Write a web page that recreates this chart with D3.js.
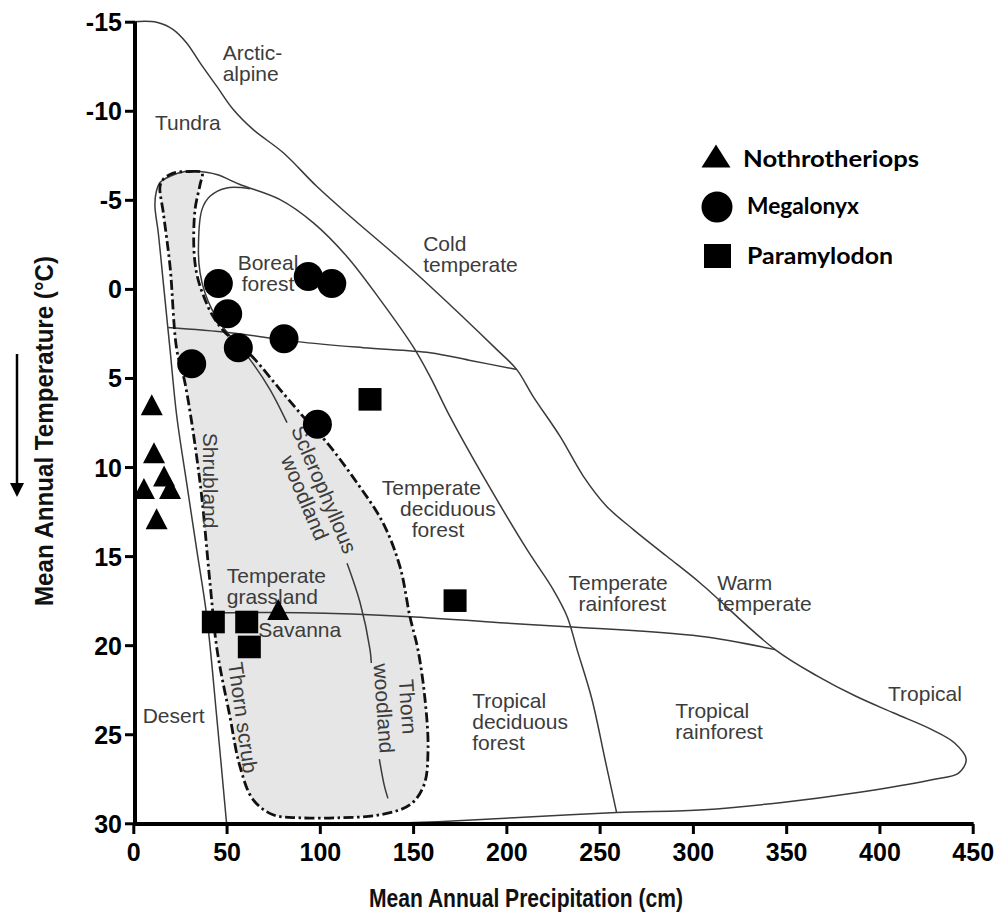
<!DOCTYPE html>
<html><head><meta charset="utf-8">
<script src="https://cdn.jsdelivr.net/npm/d3@7"></script>
<style>body{margin:0;background:#fff}</style>
</head><body>
<svg id="chart" width="995" height="915"></svg>
<script>
// ---------- data ----------
const precipTicks = [0,50,100,150,200,250,300,350,400,450];
const tempTicks = [-15,-10,-5,0,5,10,15,20,25,30];

// fossil sites [precipitation cm, temperature °C]
const nothrotheriops = [[9.9,6.5],[11.1,9.2],[16.5,10.5],[5.7,11.2],[19.7,11.2],[12.5,12.9],[77.7,18.0]];
const megalonyx = [[45.6,-0.3],[50.6,1.4],[56.3,3.3],[31.3,4.2],[80.8,2.8],[93.8,-0.7],[106.4,-0.3],[98.7,7.6]];
const paramylodon = [[126.9,6.2],[172.5,17.5],[42.9,18.7],[60.8,18.7],[62.2,20.1]];

// biome boundaries [precipitation, temperature]
const outerEnvelope = [[0,-15],[12.5,-14.97],[21.4,-14.56],[28.6,-13.81],[35.8,-12.69],[44.7,-11.38],[53.6,-10.07],[64.3,-8.94],[80.4,-7.64],[98.3,-5.76],[116.2,-4.08],[141.2,-1.83],[159.1,-0.15],[194.9,3.41],[205.6,4.53],[214.3,6.03],[228.8,8.28],[241.3,10.52],[253.8,12.21],[268.1,13.51],[286,15.01],[303.9,16.51],[344.1,20.25],[367,21.75],[387.4,22.87],[407.7,23.81],[428.1,24.74],[440.3,25.49],[446.5,26.4],[442.4,27.18],[428.1,27.55],[387.5,28.28],[346.7,28.84],[306,29.24],[259.1,29.4],[204.1,29.69],[163.4,29.91],[140,30]];
const forestLine = [[50,30],[44.7,24],[39.4,18.38],[34,14.64],[28.6,10.89],[23.3,7.15],[19.7,3.41],[16.1,-0.34],[13.4,-3.14],[11.6,-4.64],[12.2,-5.4],[14.3,-5.97],[19.7,-6.32],[27.7,-6.59],[34,-6.6],[44.7,-6.42],[57.2,-5.86],[78.7,-5.01],[96.4,-3.72],[114.6,-1.81],[132.3,0.6],[150,3.24],[159.1,4.92],[169.8,7.17],[189.6,10.88],[211.1,14.64],[225.1,16.88],[232.6,18.4],[237.9,20.25],[245.9,23.05],[252.9,26.42],[259.1,29.4]];
const borealLoop = [[62.6,-5.62],[50.1,-5.67],[41.1,-5.2],[36.8,-4.45],[34.9,-2.21],[35.8,-0.9],[38.4,0.22],[42.2,1.16],[49.2,2.29],[56.1,3.13],[62.6,3.97],[73.3,5.65],[82.4,7.51]];
const sclerophyllLine = [[114.6,15.4],[121.6,17.62],[126.9,20.25],[127.6,21.0]];
const thornLine = [[131.9,26.4],[134.6,27.9],[136.5,28.6]];
const shadedZone = [[22.4,-6.53],[30.4,-6.59],[36.8,-6.53],[35.8,-5.86],[33.1,-4.45],[32.5,-2.21],[34.1,-0.8],[37.4,0.32],[42.2,1.44],[49.2,2.45],[57.2,3.13],[65.3,3.97],[78.7,5.65],[91.1,7.17],[103.8,8.63],[119.9,10.88],[133.9,13.14],[143,15.61],[148.3,18.4],[152.6,20.25],[156.4,23.05],[158,25.86],[155.9,27.83],[148.5,28.95],[132.4,29.52],[110,29.69],[89.4,29.69],[74.9,29.52],[64.2,28.67],[57.2,26.82],[51.8,24.01],[44.9,20.25],[41.1,16.49],[35.8,10.88],[27.7,5.27],[23.3,3.41],[19.7,-1.27],[16.1,-4.27],[14.3,-5.74],[15.9,-6.14],[19.7,-6.42]];
const coldLine = [[18.7,2.17],[51.8,2.46],[87.7,2.96],[123.2,3.3],[159.1,3.58],[180,4.0],[205.6,4.53]];
const warmLine = [[37.5,18.2],[89.4,18.18],[148.3,18.4],[196.6,18.74],[232.5,18.96],[303.9,19.5],[344.1,20.25]];

// biome labels: lines of text, anchor point [precip, temp]
const biomeLabels = [
  {lines:["Arctic-","alpine"], at:[47.9,-12.87], anchor:"start"},
  {lines:["Tundra"], at:[11.6,-8.94], anchor:"start"},
  {lines:["Boreal","forest"], at:[72.2,-1.04], anchor:"middle"},
  {lines:["Cold","temperate"], at:[155.4,-2.1], anchor:"start"},
  {lines:["Temperate","grassland"], at:[50.1,16.5], anchor:"start"},
  {lines:["Savanna"], at:[67,19.54], anchor:"start"},
  {lines:["Desert"], at:[5.0,24.37], anchor:"start"},
  {lines:["Temperate","deciduous","forest"], at:[133.2,11.55], anchor:"start", dx:[0,9.8,16.1]},
  {lines:["Temperate","rainforest"], at:[233.3,16.92], anchor:"start", dx:[0,5.4]},
  {lines:["Warm","temperate"], at:[313,16.9], anchor:"start"},
  {lines:["Tropical"], at:[404.6,23.16], anchor:"start"},
  {lines:["Tropical","deciduous","forest"], at:[181.7,23.53], anchor:"start"},
  {lines:["Tropical","rainforest"], at:[290.6,24.09], anchor:"start"}
];
const rotatedLabels = [
  {lines:["Shrubland"], at:[41.1,10.76], rot:90, gap:21},
  {lines:["Sclerophyllous","woodland"], at:[97.0,11.5], rot:67, gap:21},
  {lines:["Thorn scrub"], at:[58.6,24.07], rot:82, gap:21},
  {lines:["Thorn","woodland"], at:[140.6,23.5], rot:86, gap:24}
];
const legendItems = ["Nothrotheriops","Megalonyx","Paramylodon"];

// ---------- chart ----------
const svg = d3.select("#chart");
svg.append("rect").attr("width",995).attr("height",915).attr("fill","#fff");
const x = d3.scaleLinear().domain([0,450]).range([133.3,972.7]);
const y = d3.scaleLinear().domain([-15,30]).range([21.7,823.3]);

const line = d3.line().x(d=>x(d[0])).y(d=>y(d[1])).curve(d3.curveCatmullRom.alpha(0.5));
const closedLine = d3.line().x(d=>x(d[0])).y(d=>y(d[1])).curve(d3.curveCatmullRomClosed.alpha(0.5));

const g = svg.append("g");
g.append("path").attr("d", closedLine(shadedZone)).attr("fill","#e6e6e6").attr("stroke","none");
[outerEnvelope, forestLine, borealLoop, sclerophyllLine, thornLine, coldLine, warmLine].forEach(b=>{
  g.append("path").attr("d", line(b)).attr("fill","none").attr("stroke","#3a3a3a").attr("stroke-width",1.5);
});
g.append("path").attr("d", closedLine(shadedZone)).attr("fill","none").attr("stroke","#111")
  .attr("stroke-width",2.8).attr("stroke-dasharray","10,3.5,2.5,3.5");

// labels
const labelFont = "'Liberation Sans', Arial, Helvetica, sans-serif";
biomeLabels.forEach(L=>{
  const t = g.append("text").attr("x",x(L.at[0])).attr("y",y(L.at[1]))
    .attr("text-anchor",L.anchor).attr("font-family",labelFont).attr("font-size",21).attr("fill","#3c3c3c");
  L.lines.forEach((s,i)=>{
    t.append("tspan").attr("x",x(L.at[0]) + (L.dx? L.dx[i]*1.865 : 0)).attr("dy", i===0?0:21).text(s);
  });
});
rotatedLabels.forEach(L=>{
  const n = L.lines.length;
  const t = g.append("text").attr("transform",`translate(${x(L.at[0])},${y(L.at[1])}) rotate(${L.rot})`)
    .attr("text-anchor","middle").attr("font-family",labelFont).attr("font-size",21).attr("fill","#3c3c3c");
  L.lines.forEach((s,i)=>{
    t.append("tspan").attr("x",0).attr("y", 7 + (i-(n-1)/2)*L.gap).text(s);
  });
});

// markers
const triPath = (cx,cy,w,h)=>`M${cx},${cy-h/2}L${cx+w/2},${cy+h/2}L${cx-w/2},${cy+h/2}Z`;
g.selectAll("path.tri").data(nothrotheriops).enter().append("path").attr("class","tri")
  .attr("d",d=>triPath(x(d[0]),y(d[1]),22,21)).attr("fill","#000");
g.selectAll("circle.meg").data(megalonyx).enter().append("circle").attr("class","meg")
  .attr("cx",d=>x(d[0])).attr("cy",d=>y(d[1])).attr("r",14.5).attr("fill","#000");
g.selectAll("rect.par").data(paramylodon).enter().append("rect").attr("class","par")
  .attr("x",d=>x(d[0])-11.5).attr("y",d=>y(d[1])-11.3).attr("width",23).attr("height",22.6).attr("fill","#000");

// axes
const tickFont = "'Liberation Sans', Arial, sans-serif";
const yAxis = svg.append("g").attr("transform","translate(135,0)")
  .call(d3.axisLeft(y).tickValues(tempTicks).tickFormat(d=>String(d)).tickSize(10).tickSizeOuter(0).tickPadding(3));
const xAxis = svg.append("g").attr("transform","translate(0,824)")
  .call(d3.axisBottom(x).tickValues(precipTicks).tickFormat(d=>String(d)).tickSize(10).tickSizeOuter(0).tickPadding(9));
[yAxis,xAxis].forEach(a=>{
  a.select(".domain").attr("stroke","#000").attr("stroke-width",4);
  a.selectAll(".tick line").attr("stroke","#000").attr("stroke-width",3);
  a.selectAll(".tick text").attr("fill","#000").attr("font-family",tickFont)
    .attr("font-weight","bold").attr("font-size",25);
});
yAxis.selectAll(".tick text").attr("dy","0.36em");
yAxis.select(".domain").attr("d","M0,21.7V826");
xAxis.select(".domain").attr("d",`M133,0H${x(450)+1}`);

// axis titles
svg.append("text").attr("x",526).attr("y",907).attr("text-anchor","middle")
  .attr("font-family",labelFont).attr("font-weight","bold").attr("font-size",25).attr("fill","#111")
  .attr("textLength",314).attr("lengthAdjust","spacingAndGlyphs")
  .text("Mean Annual Precipitation (cm)");
svg.append("text").attr("transform",`translate(53,431) rotate(-90)`).attr("text-anchor","middle")
  .attr("font-family",labelFont).attr("font-weight","bold").attr("font-size",25).attr("fill","#111")
  .attr("textLength",350).attr("lengthAdjust","spacingAndGlyphs")
  .text("Mean Annual Temperature (°C)");
// direction arrow
svg.append("line").attr("x1",17).attr("x2",17).attr("y1",354).attr("y2",485).attr("stroke","#000").attr("stroke-width",2.5);
svg.append("path").attr("d","M10,483L24,483L17,497Z").attr("fill","#000");

// legend
const legFont = "Lato, 'Open Sans', sans-serif";
const leg = svg.append("g");
const legY = [156,207,256];
const legLen = [176,112,146];
leg.append("path").attr("d",triPath(716,legY[0],29,23)).attr("fill","#000");
leg.append("circle").attr("cx",717).attr("cy",legY[1]).attr("r",15.5).attr("fill","#000");
leg.append("rect").attr("x",704).attr("y",legY[2]-12).attr("width",27).attr("height",24).attr("fill","#000");
legendItems.forEach((s,i)=>{
  leg.append("text").attr("x", i===0?743:747).attr("y",legY[i]+[11,7,8][i]).attr("font-family",legFont)
    .attr("font-weight","bold").attr("font-size",23).attr("fill","#000")
    .attr("textLength",legLen[i]).attr("lengthAdjust","spacingAndGlyphs").text(s);
});
</script>
</body></html>
